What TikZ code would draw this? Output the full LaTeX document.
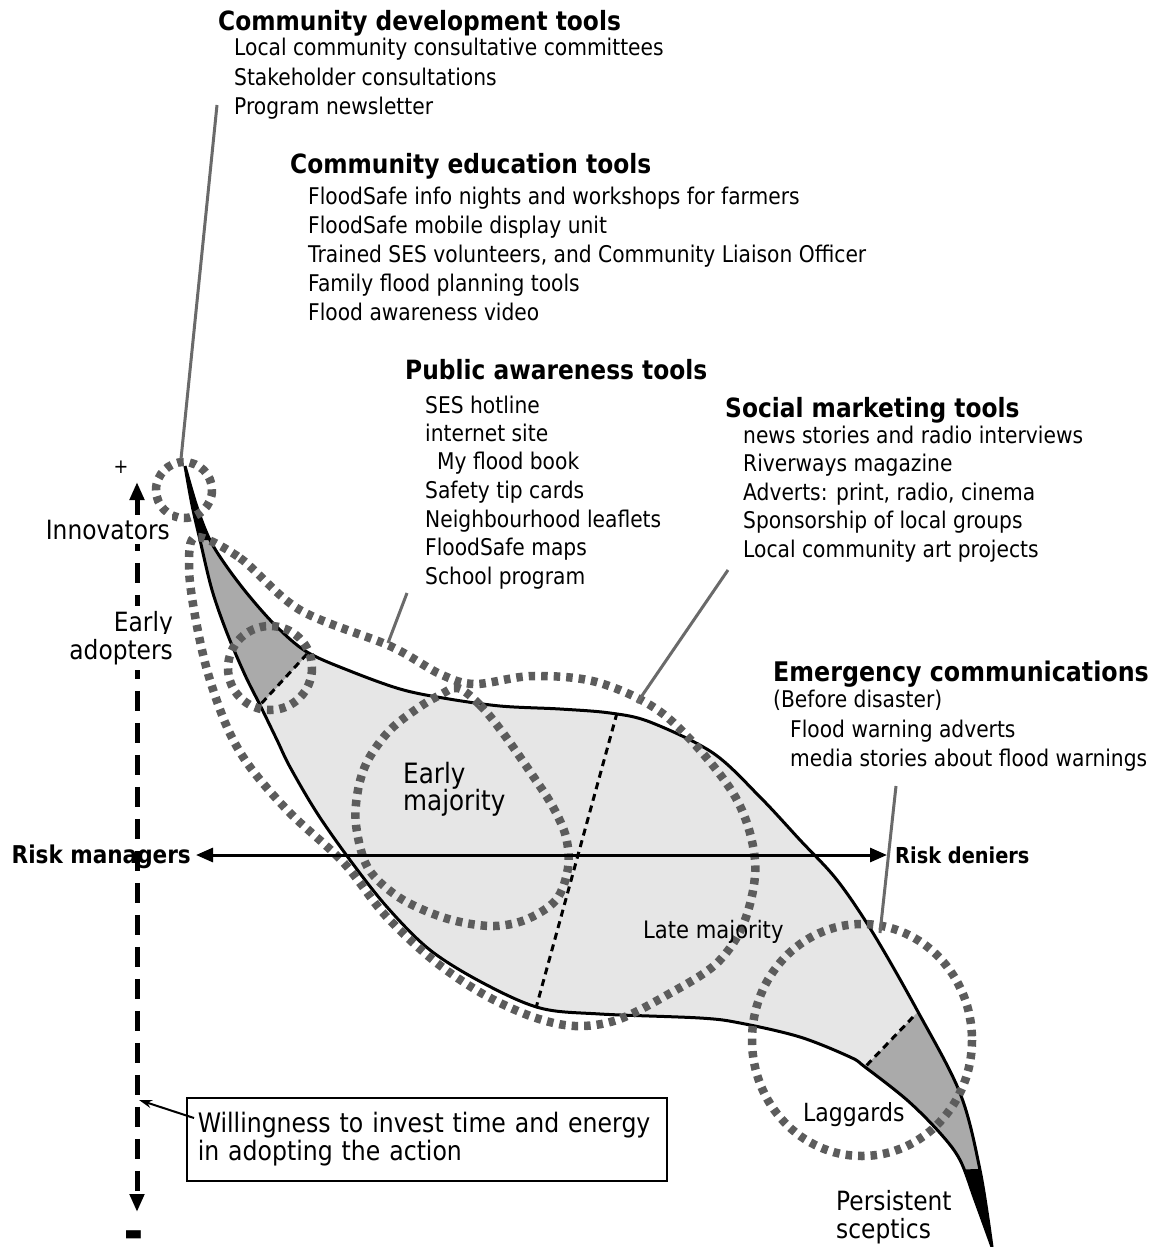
\documentclass[tikz,border=0pt]{standalone}
\usepackage{fontspec}
\setmainfont{DejaVu Sans}[FakeStretch=0.88]
\usetikzlibrary{arrows.meta}
\definecolor{bandlight}{HTML}{E6E6E6}
\definecolor{banddark}{HTML}{AAAAAA}
\definecolor{ringgray}{HTML}{5C5C5C}
\definecolor{leadgray}{HTML}{6A6A6A}
\begin{document}
\begin{tikzpicture}[x=1pt,y=-1pt,
  listtext/.style={anchor=base west, inner sep=0pt, font=\fontsize{23}{29}\selectfont},
  headtext/.style={anchor=base west, inner sep=0pt, font=\fontsize{26.5}{30}\selectfont\bfseries},
  sidelabel/.style={anchor=base east, inner xsep=2pt, inner ysep=5pt, fill=white, font=\fontsize{26.5}{30}\selectfont},
  grouplabel/.style={anchor=base west, inner sep=0pt, font=\fontsize{26.5}{30}\selectfont},
  ring/.style={draw=ringgray, line width=8.5pt, dash pattern=on 6.5pt off 6pt},
  divider/.style={draw=black, line width=3pt, dash pattern=on 7pt off 5pt},
  leader/.style={draw=leadgray, line width=3pt},
  outline/.style={draw=black, line width=3pt, line join=miter},
  axisline/.style={draw=black, line width=5pt, dash pattern=on 20pt off 12pt}]
\useasboundingbox (0,0) rectangle (1163,1247);

% ---------- adoption band ----------
\path[save path=\bandpath]
  plot[smooth, tension=0.55] coordinates {(185,466) (197,507) (210,540) (227,567) (250,597)
    (277,627) (307,652) (350,671) (400,689) (443,698) (500,706) (560,709) (610,713)
    (650,722) (713,753) (760,797) (800,840) (837,880) (873,933) (917,1010) (960,1093)
    (980,1170) (992,1247)}
  -- plot[smooth, tension=0.55] coordinates {(992,1247) (975,1200) (960,1160) (940,1133)
    (907,1100) (865,1067) (850,1057) (800,1037) (740,1023) (700,1018) (600,1014)
    (540,1008) (483,983) (430,950) (387,907) (350,860) (317,813) (290,767) (277,740)
    (260,705) (245,675) (227,633) (212,590) (200,540) (192,505) (185,466)}
  -- cycle;
\path[fill=bandlight, use path=\bandpath];
\begin{scope}
  \path[clip, use path=\bandpath];
  % early adopters and innovators
  \fill[banddark] (215,754) -- (360,598) -- (360,380) -- (100,380) -- (100,754) -- cycle;
  \fill[black] (100,380) -- (300,380) -- (300,541) -- (100,539) -- cycle;
  % laggards and persistent sceptics
  \fill[banddark] (962,966) -- (817,1117) -- (817,1300) -- (1100,1300) -- (1100,966) -- cycle;
  \fill[black] (900,1171) -- (1100,1166) -- (1100,1300) -- (900,1300) -- cycle;
\end{scope}
\path[outline, use path=\bandpath];

% segment boundaries
\coordinate (d1a) at (307,654); \coordinate (d1b) at (260,705);
\coordinate (d2a) at (617,713); \coordinate (d2b) at (536,1008);
\coordinate (d3a) at (913,1017); \coordinate (d3b) at (865,1067);
\draw[divider] (d1a) -- (d1b);
\draw[divider] (d2a) -- (d2b);
\draw[divider] (d3a) -- (d3b);

% ---------- tool rings ----------
\draw[ring] (184,490) circle[radius=28];
\draw[ring] (270,668) circle[radius=42];
% wide ring over the leading segments and both majorities
\draw[ring] plot[smooth cycle, tension=0.55] coordinates {(196,537) (240,558) (300,610)
  (390,646) (440,674) (475,684) (533,676) (600,683) (667,717) (733,793) (755,860)
  (745,920) (717,963) (667,995) (617,1020) (575,1026) (533,1017) (483,994) (433,960)
  (385,915) (343,862) (290,813) (250,767) (227,727) (207,670) (194,610) (189,565)};
% early majority ring
\draw[ring] plot[smooth cycle, tension=0.55] coordinates {(458,688) (480,705) (503,733)
  (533,776) (553,807) (566,837) (568,868) (556,900) (525,920) (490,926) (445,918)
  (400,898) (368,868) (356,825) (358,790) (368,760) (390,730) (418,708) (440,695)};
% laggards ring
\draw[ring] (862,1040) ellipse[x radius=110, y radius=116];

% ---------- vertical axis ----------
\coordinate (axtop) at (137,482);
\coordinate (axbot) at (137,1212);
\draw[axisline, {Triangle[length=18pt,width=14pt]}-{Triangle[length=18pt,width=14pt]}] (axtop) -- (axbot);
\node[inner sep=0pt] (plus) at (121,467) {\fontsize{20}{20}\selectfont +};
\node[inner sep=0pt, anchor=base] (minus) at (133.5,1240) {\fontsize{22}{22}\selectfont ▬};
\node[sidelabel] (innov) at (172,539) {Innovators};
\node[sidelabel] (early) at (175,631) {Early};
\node[sidelabel] (adopt) at (175,659) {adopters};

% ---------- horizontal axis ----------
\node[anchor=base east, inner sep=0pt, font=\fontsize{24.5}{28}\selectfont\bfseries] (riskman) at (191,863) {Risk managers};
\node[anchor=base west, inner sep=0pt, font=\fontsize{22}{26}\selectfont\bfseries] (riskden) at (895,863) {Risk deniers};
\coordinate (hl) at (196,855);
\coordinate (hr) at (887,855);
\draw[line width=3pt, {Triangle[length=17pt,width=14pt]}-{Triangle[length=17pt,width=14pt]}] (hl) -- (hr);

% ---------- group labels ----------
\node[grouplabel, font=\fontsize{28}{30}\selectfont] (emaj1) at (403,783) {Early};
\node[grouplabel, font=\fontsize{28}{30}\selectfont] (emaj2) at (403,810) {majority};
\node[grouplabel, font=\fontsize{24}{28}\selectfont] (lmaj) at (643,938) {Late majority};
\node[grouplabel, font=\fontsize{25}{28}\selectfont] (lagg) at (803,1121) {Laggards};
\node[grouplabel] (pers1) at (836,1210) {Persistent};
\node[grouplabel] (pers2) at (836,1238) {sceptics};

% ---------- tool lists ----------
\node[headtext] (cdhead) at (218,31) {Community development tools};
\node[listtext] (cd1) at (234,56) {Local community consultative committees};
\node[listtext] (cd2) at (234,85) {Stakeholder consultations};
\node[listtext] (cd3) at (234,114) {Program newsletter};

\node[headtext] (cehead) at (290,173) {Community education tools};
\node[listtext] (ce1) at (308,204) {FloodSafe info nights and workshops for farmers};
\node[listtext] (ce2) at (308,233) {FloodSafe mobile display unit};
\node[listtext] (ce3) at (308,262) {Trained SES volunteers, and Community Liaison Officer};
\node[listtext] (ce4) at (308,291) {Family flood planning tools};
\node[listtext] (ce5) at (308,320) {Flood awareness video};

\node[headtext] (pahead) at (405,379) {Public awareness tools};
\node[listtext] (pa1) at (425,413) {SES hotline};
\node[listtext] (pa2) at (425,441) {internet site};
\node[listtext] (pa3) at (437,469) {My flood book};
\node[listtext] (pa4) at (425,498) {Safety tip cards};
\node[listtext] (pa5) at (425,527) {Neighbourhood leaflets};
\node[listtext] (pa6) at (425,555) {FloodSafe maps};
\node[listtext] (pa7) at (425,584) {School program};

\node[headtext] (smhead) at (725,417) {Social marketing tools};
\node[listtext] (sm1) at (743,443) {news stories and radio interviews};
\node[listtext] (sm2) at (743,471) {Riverways magazine};
\node[listtext] (sm3) at (743,500) {Adverts: print, radio, cinema};
\node[listtext] (sm4) at (743,528) {Sponsorship of local groups};
\node[listtext] (sm5) at (743,557) {Local community art projects};

\node[headtext, font=\fontsize{27}{30}\selectfont\bfseries] (ecbhead) at (773,681) {Emergency communications};
\node[listtext] (ec0) at (773,707) {(Before disaster)};
\node[listtext] (ec1) at (790,737) {Flood warning adverts};
\node[listtext] (ec2) at (790,766) {media stories about flood warnings};

% ---------- leaders from lists to rings ----------
\coordinate (l1a) at (217,105); \coordinate (l1b) at (181,459);
\coordinate (l2a) at (407,593); \coordinate (l2b) at (388,643);
\coordinate (l3a) at (728,570); \coordinate (l3b) at (637,703);
\coordinate (l4a) at (896,786); \coordinate (l4b) at (880,933);
\draw[leader] (l1a) -- (l1b);
\draw[leader] (l2a) -- (l2b);
\draw[leader] (l3a) -- (l3b);
\draw[leader] (l4a) -- (l4b);

% ---------- explanatory box ----------
\node[draw, line width=1.5pt, anchor=north west, minimum width=480pt, minimum height=83pt,
  inner xsep=11pt, inner ysep=0pt, text width=458pt, align=left,
  font=\fontsize{26.8}{28}\selectfont] (willbox) at (186,1097)
  {Willingness to invest time and energy\\in adopting the action};
\coordinate (ptrs) at (194,1118);
\coordinate (ptre) at (139,1100);
\draw[line width=2pt, -{Stealth[length=13pt,width=8pt]}] (ptrs) -- (ptre);
\end{tikzpicture}
\end{document}
